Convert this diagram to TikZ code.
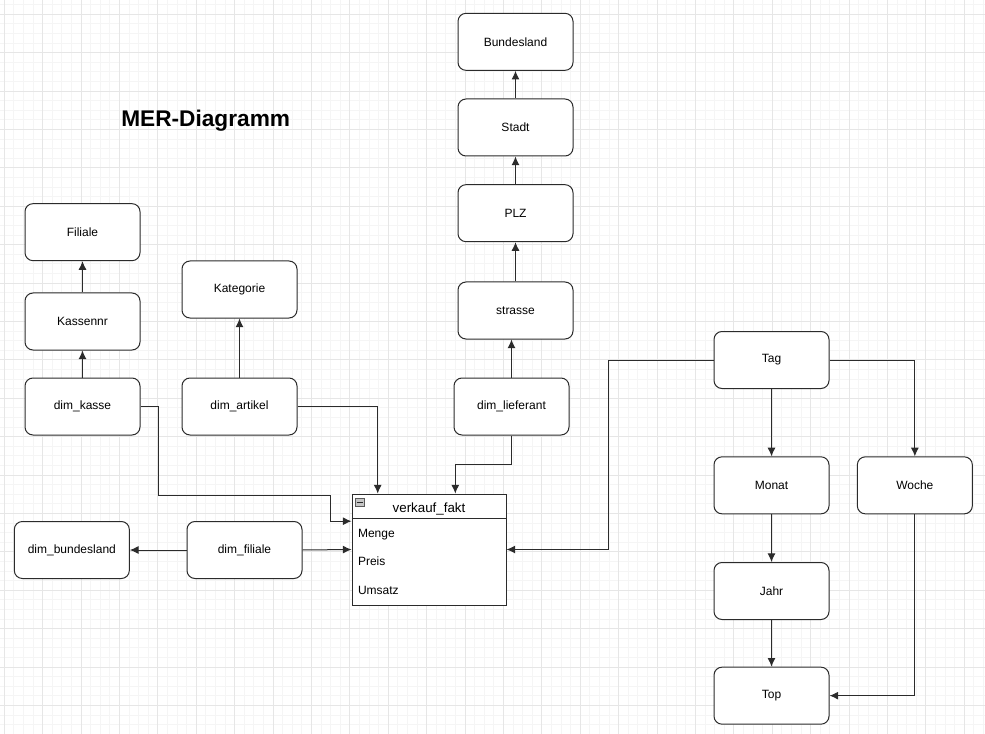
\documentclass[tikz,border=0pt]{standalone}
\usepackage{fontspec}
\setmainfont{Liberation Sans}
\usepackage{xcolor}
\definecolor{lineDark}{HTML}{2B2B2B}
\definecolor{gridLight}{HTML}{F5F5F5}
\definecolor{gridMid}{HTML}{E6E6E6}
\usepackage{tikz}
\usetikzlibrary{positioning,calc,arrows.meta}
\tikzset{%
  entityBox/.style={%
    rectangle,
    rounded corners=6pt,
    draw=lineDark,
    line width=0.75pt,
    fill=white,
    minimum width=86.25pt,
    minimum height=42.75pt,
    font=\fontsize{9}{11}\selectfont,
    align=center
  },
  factTable/.style={%
    rectangle,
    draw=lineDark,
    line width=0.75pt,
    fill=white,
    minimum width=115.5pt,
    minimum height=83.25pt
  },
  rowText/.style={%
    anchor=mid west,
    inner sep=0pt,
    font=\fontsize{9}{11}\selectfont
  },
  minusIcon/.style={%
    rectangle,
    draw=gray!70!black,
    fill=gray!45,
    line width=0.5pt,
    inner sep=0pt,
    minimum width=6.5pt,
    minimum height=5.5pt
  },
  titleText/.style={%
    font=\bfseries\fontsize{17}{20}\selectfont
  },
  arrowLine/.style={%
    -{Latex[length=6.5pt,width=6pt]},
    line width=0.75pt,
    color=lineDark
  },
  gridMinor/.style={draw=gridLight, line width=0.75pt},
  gridMajor/.style={draw=gridMid, line width=0.75pt}
}

\begin{document}
\begin{tikzpicture}[x=0.75pt,y=-0.75pt]
            % Raster
            \useasboundingbox[fill=white] (0,0) rectangle (985,734);
            \foreach \k in {0,...,102}
              \draw[gridMinor] ({4.3+9.6*\k},0) -- ++(0,734);
            \foreach \k in {0,...,75}
              \draw[gridMinor] (0,{4.7+9.6*\k}) -- ++(985,0);
            \foreach \k in {0,...,25}
              \draw[gridMajor] ({4.3+38.4*\k},0) -- ++(0,734);
            \foreach \k in {0,...,18}
              \draw[gridMajor] (0,{14.3+38.4*\k}) -- ++(985,0);

            \node[titleText] (title) at (205.7,120.5) {MER-Diagramm};

            % Lieferant
            \node[entityBox] (strasse) at (515.5,310.5) {strasse};
            \node[entityBox, above=29.5pt of strasse] (plz) {PLZ};
            \node[entityBox, above=20.75pt of plz] (stadt) {Stadt};
            \node[entityBox, above=20.75pt of stadt] (land) {Bundesland};
            \node[entityBox] (lieferant) at (511.5,406.5) {dim\_lieferant};

            % Kasse und Artikel
            \node[entityBox] (kasse) at (82.5,406.5) {dim\_kasse};
            \node[entityBox, above=20.25pt of kasse] (kassennr) {Kassennr};
            \node[entityBox, above=23.5pt of kassennr] (filiale) {Filiale};
            \node[entityBox] (artikel) at (239.5,406.5) {dim\_artikel};
            \node[entityBox, above=44.25pt of artikel] (kategorie) {Kategorie};

            % Filiale
            \node[entityBox] (dfiliale) at (244.5,550) {dim\_filiale};
            \node[entityBox, left=42.5pt of dfiliale] (dland) {dim\_bundesland};

            % Faktentabelle
            \node[factTable] (fakt) at (429,549.5) {};
            \draw[line width=0.75pt, color=lineDark] ($(fakt.north west)+(0,25.3)$) -- ($(fakt.north east)+(0,25.3)$);
            \node[minusIcon] (collapse) at ($(fakt.north west)+(8.5,8.7)$) {};
            \draw[line width=0.9pt, color=lineDark] ($(collapse.west)+(1.2,0)$) -- ($(collapse.east)+(-1.2,0)$);
            \node[anchor=mid, inner sep=0pt, font=\fontsize{10}{12}\selectfont] (faktTitle) at ($(fakt.north)+(0,15.8)$) {verkauf\_fakt};
            \node[rowText] (menge) at ($(fakt.north west)+(6.3,40)$) {Menge};
            \node[rowText] (preis) at ($(fakt.north west)+(6.3,68.4)$) {Preis};
            \node[rowText] (umsatz) at ($(fakt.north west)+(6.3,97.7)$) {Umsatz};
            \coordinate (faktKasse) at ($(fakt.north west)+(0,27.7)$);

            % Zeit
            \node[entityBox] (tag) at (771.5,360) {Tag};
            \node[entityBox, below=50.5pt of tag] (monat) {Monat};
            \node[entityBox, right=20.5pt of monat] (woche) {Woche};
            \node[entityBox, below=35.75pt of monat] (jahr) {Jahr};
            \node[entityBox, below=35pt of jahr] (top) {Top};

            % Verbindungen
            \draw[arrowLine] (strasse) -- (plz);
            \draw[arrowLine] (plz) -- (stadt);
            \draw[arrowLine] (stadt) -- (land);
            \draw[arrowLine] (lieferant.north) -- (lieferant.north |- strasse.south);
            \draw[arrowLine] (kasse) -- (kassennr);
            \draw[arrowLine] (kassennr) -- (filiale);
            \draw[arrowLine] (artikel) -- (kategorie);

            \draw[arrowLine] (lieferant.south) -- ++(0,29) -| ($(fakt.north)+(26.3,0)$);
            \draw[arrowLine] (artikel.east) -| ($(fakt.north)+(-51.3,0)$);
            \draw[arrowLine] (kasse.east) -| ++(18,88.5) -| ($(faktKasse)+(-21,0)$) -- (faktKasse);
            \draw[arrowLine] (dfiliale.east) -- (fakt.west);
            \draw[arrowLine] (dfiliale) -- (dland);
            \draw[arrowLine] (tag.west) -- ++(-105,0) |- (fakt.east);

            \draw[arrowLine] (tag) -- (monat);
            \draw[arrowLine] (tag.east) -| (woche.north);
            \draw[arrowLine] (monat) -- (jahr);
            \draw[arrowLine] (jahr) -- (top);
            \draw[arrowLine] (woche.south) |- (top.east);
        \end{tikzpicture}
\end{document}
